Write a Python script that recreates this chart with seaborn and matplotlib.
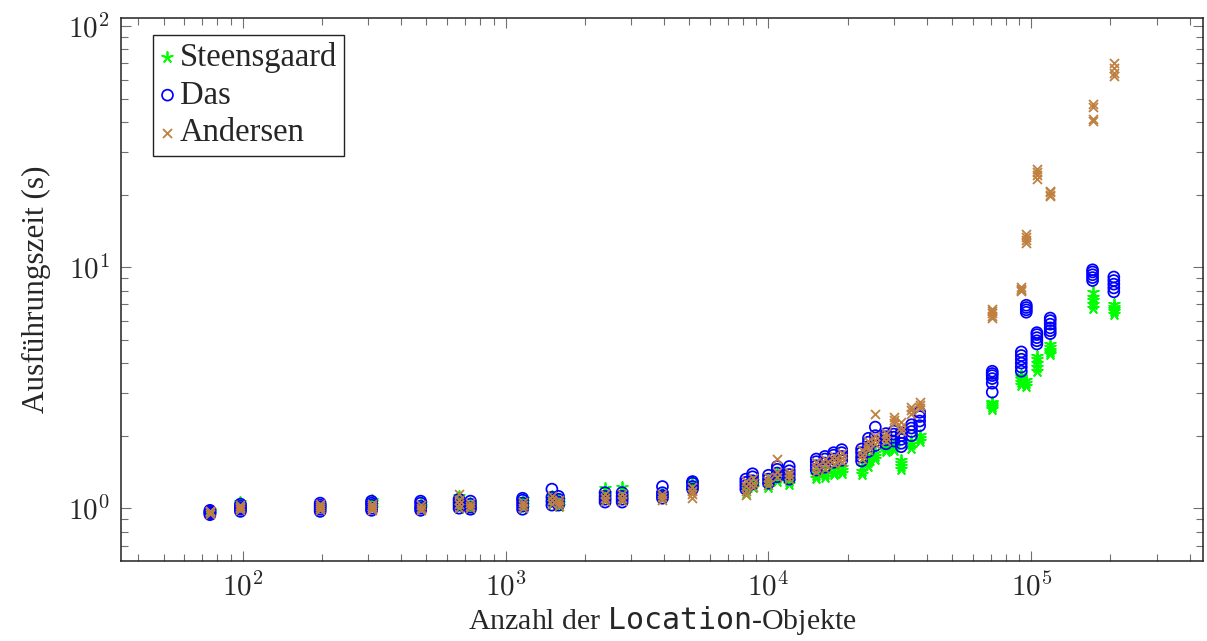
import numpy as np
import pandas as pd
import matplotlib
matplotlib.use("Agg")
import matplotlib.pyplot as plt
import seaborn as sns
from matplotlib.ticker import LogLocator, NullFormatter, FuncFormatter

# Anzahl der Location-Objekte je Benchmark
location_counts = [75, 98, 197, 309, 475, 665, 735, 1160, 1500, 1590, 2390, 2775, 3950, 5140,
                   8200, 8700, 10000, 10800, 12000, 15200, 16400, 17700, 19000, 22600, 24000,
                   25500, 28000, 30000, 32000, 35000, 37600, 71000, 91600, 95700, 105000,
                   118000, 171000, 206000]

# Ausführungszeiten (s) der einzelnen Läufe je Benchmark
steensgaard_times = [
    [0.95, 0.96, 0.97, 0.98], [0.99, 1.01, 1.03, 1.06], [0.99, 1.0, 1.02], [1.0, 1.03, 1.06, 1.08],
    [1.0, 1.02, 1.05], [1.0, 1.04, 1.12], [0.99, 1.02, 1.05], [1.0, 1.03, 1.06, 1.09],
    [1.04, 1.08, 1.12], [1.02, 1.05, 1.08], [1.08, 1.12, 1.16, 1.21], [1.08, 1.12, 1.17, 1.23],
    [1.1, 1.13, 1.16], [1.21, 1.25, 1.28], [1.16, 1.2, 1.24], [1.22, 1.26, 1.3],
    [1.22, 1.26, 1.3], [1.3, 1.34, 1.38], [1.26, 1.3, 1.34], [1.33, 1.37, 1.41],
    [1.35, 1.39, 1.43], [1.38, 1.42, 1.46], [1.4, 1.44, 1.48], [1.38, 1.43, 1.5],
    [1.5, 1.55, 1.6], [1.6, 1.65, 1.7], [1.72, 1.76, 1.8], [1.75, 1.8, 1.84],
    [1.46, 1.5, 1.54, 1.58], [1.78, 1.84, 1.9], [1.9, 1.96, 2.02],
    [2.57, 2.62, 2.67, 2.72, 2.77], [3.25, 3.35, 3.42, 3.5, 3.58], [3.2, 3.3, 3.4],
    [3.7, 3.85, 4.0, 4.15, 4.3], [4.35, 4.45, 4.55, 4.65, 4.78],
    [6.8, 7.05, 7.3, 7.55, 7.85], [6.4, 6.55, 6.7, 6.85, 7.0],
]
das_times = [
    [0.94, 0.95, 0.96, 0.97, 0.98], [0.97, 0.99, 1.0, 1.02, 1.04], [0.97, 0.99, 1.01, 1.03, 1.05],
    [0.98, 1.0, 1.03, 1.05, 1.07], [0.98, 1.0, 1.02, 1.05, 1.07], [1.0, 1.03, 1.06, 1.09],
    [0.99, 1.01, 1.04, 1.07], [0.99, 1.02, 1.05, 1.08, 1.1], [1.03, 1.07, 1.11, 1.2],
    [1.03, 1.06, 1.09, 1.12], [1.06, 1.09, 1.12, 1.16], [1.06, 1.09, 1.12, 1.16],
    [1.1, 1.13, 1.16, 1.23], [1.2, 1.23, 1.27, 1.29], [1.2, 1.24, 1.28, 1.32],
    [1.26, 1.3, 1.35, 1.39], [1.27, 1.32, 1.37], [1.35, 1.4, 1.45, 1.49],
    [1.32, 1.38, 1.43, 1.49], [1.44, 1.5, 1.56, 1.6], [1.48, 1.54, 1.6, 1.64],
    [1.55, 1.6, 1.66, 1.7], [1.58, 1.64, 1.7, 1.75], [1.57, 1.63, 1.7, 1.76],
    [1.72, 1.8, 1.88, 1.95], [1.82, 1.9, 2.0, 2.17], [1.85, 1.92, 1.98, 2.04],
    [1.9, 1.97, 2.03, 2.09], [1.8, 1.86, 1.93, 2.0, 2.06], [2.0, 2.08, 2.15, 2.22],
    [2.2, 2.3, 2.4, 2.5], [3.03, 3.3, 3.45, 3.55, 3.62, 3.7],
    [3.7, 3.85, 4.0, 4.15, 4.3, 4.45], [6.5, 6.65, 6.8, 6.95],
    [4.8, 4.95, 5.1, 5.25, 5.35], [5.3, 5.45, 5.6, 5.8, 6.0, 6.15],
    [8.8, 9.05, 9.3, 9.55, 9.75], [7.9, 8.2, 8.5, 8.8, 9.1],
]
andersen_times = [
    [0.95, 0.96, 0.97, 0.97], [0.98, 1.0, 1.01, 1.03], [0.98, 1.0, 1.02, 1.04], [0.98, 1.0, 1.02, 1.04],
    [0.98, 1.0, 1.03], [1.0, 1.04, 1.08, 1.14], [1.0, 1.02, 1.05], [1.0, 1.03, 1.06],
    [1.04, 1.08, 1.12], [1.02, 1.05, 1.08], [1.07, 1.1, 1.14], [1.07, 1.1, 1.14],
    [1.08, 1.11, 1.15], [1.1, 1.14, 1.18, 1.22], [1.13, 1.18, 1.24, 1.3], [1.22, 1.27, 1.33],
    [1.25, 1.3, 1.35], [1.35, 1.42, 1.6], [1.32, 1.37, 1.42], [1.42, 1.48, 1.55],
    [1.45, 1.52, 1.6], [1.52, 1.58, 1.65], [1.55, 1.62, 1.7], [1.6, 1.66, 1.74],
    [1.75, 1.82, 1.9], [1.85, 1.92, 2.0, 2.45], [1.9, 1.98, 2.05], [2.25, 2.32, 2.39],
    [2.1, 2.18, 2.28], [2.45, 2.55, 2.62], [2.6, 2.68, 2.76],
    [6.15, 6.3, 6.45, 6.6, 6.7], [7.95, 8.05, 8.15, 8.25], [12.6, 13.0, 13.4, 13.7],
    [23.3, 24.0, 24.8, 25.5], [19.7, 20.0, 20.4, 20.7],
    [40.3, 41.2, 46.0, 47.5], [62.0, 64.0, 67.0, 70.0],
]


def runs_frame(times):
    rows = [(n, t) for n, ts in zip(location_counts, times) for t in ts]
    return pd.DataFrame(rows, columns=["locations", "seconds"])


sns.set_style("ticks")
plt.rcParams["font.family"] = ["Liberation Serif", "DejaVu Serif"]
plt.rcParams["mathtext.fontset"] = "cm"
plt.rcParams["mathtext.tt"] = "DejaVu Sans Mono"
plt.rcParams["mathtext.rm"] = "Liberation Serif"

fig = plt.figure(figsize=(12.07, 6.41), dpi=100)
ax = fig.add_axes([0.1002, 0.1248, 0.8965, 0.8471])

green = "#00ff00"
blue = "#0000ff"
brown = "#bf8040"

sns.scatterplot(data=runs_frame(steensgaard_times), x="locations", y="seconds",
                marker=(5, 2, 0), color=green, s=60, linewidth=1.3, label="Steensgaard", ax=ax)
coll = ax.collections[-1]
coll.set_edgecolor(green)

sns.scatterplot(data=runs_frame(das_times), x="locations", y="seconds",
                marker="o", color=blue, s=62, linewidth=1.25, label="Das", ax=ax)
coll = ax.collections[-1]
coll.set_facecolor("none")
coll.set_edgecolor(blue)

sns.scatterplot(data=runs_frame(andersen_times), x="locations", y="seconds",
                marker="x", color=brown, s=42, linewidth=1.3, label="Andersen", ax=ax)
coll = ax.collections[-1]
coll.set_edgecolor(brown)

ax.set_xscale("log")
ax.set_yscale("log")
ax.set_xlim(34.4, 4.5e5)
ax.set_ylim(0.604, 108)

pow_fmt = FuncFormatter(lambda v, pos: r"$10^{%d}$" % int(round(np.log10(v))))
for axis in (ax.xaxis, ax.yaxis):
    axis.set_major_locator(LogLocator(base=10, numticks=10))
    axis.set_minor_locator(LogLocator(base=10, subs=np.arange(2, 10), numticks=20))
    axis.set_major_formatter(pow_fmt)
    axis.set_minor_formatter(NullFormatter())

ax.tick_params(which="both", direction="in", top=True, right=True, color="#707070", width=0.8,
               labelsize=21, pad=8)
ax.tick_params(which="major", length=7.5)
ax.tick_params(which="minor", length=5)
for lbl in ax.get_xticklabels() + ax.get_yticklabels():
    lbl.set_math_fontfamily("cm")

for sp in ax.spines.values():
    sp.set_visible(True)
    sp.set_color("#222222")
    sp.set_linewidth(1.1)

ax.set_xlabel(r"Anzahl der $\mathtt{Location}$-Objekte", fontsize=21.5, labelpad=2,
              math_fontfamily="custom")
ax.set_ylabel("Ausführungszeit (s)", fontsize=22.5, labelpad=12)

leg = ax.legend(loc="upper left", bbox_to_anchor=(0.0296, 0.969), borderaxespad=0,
                fontsize=23.5, frameon=True, fancybox=False, framealpha=1, edgecolor="#222222",
                handlelength=0.45, handletextpad=0.15, borderpad=0.22, labelspacing=0.22,
                scatterpoints=1)
leg.get_frame().set_linewidth(1.0)

fig.savefig("out.png", dpi=100)
